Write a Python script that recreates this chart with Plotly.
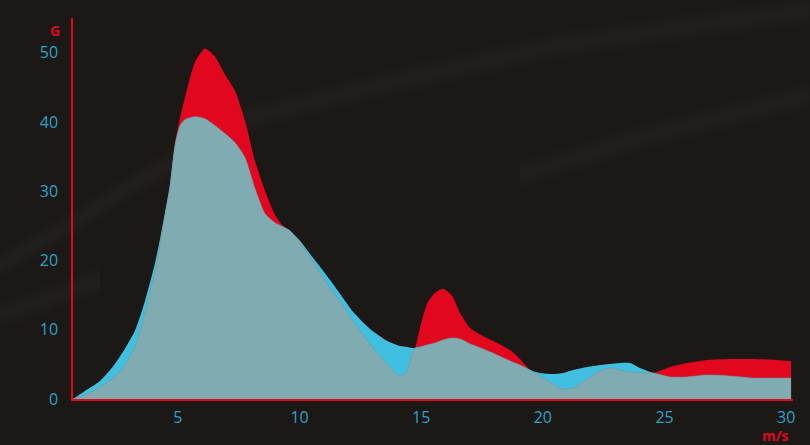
import numpy as np
import plotly.graph_objects as go

# wind speed (m/s)
speed = [0.69, 1.18, 1.80, 2.29, 2.74, 3.24, 3.65, 4.06, 4.27, 4.47, 4.68, 4.88,
         5.09, 5.29, 5.70, 6.11, 6.53, 6.94, 7.35, 7.76, 8.17, 8.58, 8.99, 9.32,
         9.61, 10.02, 10.43, 10.84, 11.25, 11.66, 12.20, 12.90, 13.60, 14.13, 14.42,
         14.62, 14.75, 14.95, 15.24, 15.57, 15.90, 16.27, 16.60, 17.01, 17.54, 18.12,
         18.65, 19.06, 19.47, 19.88, 20.42, 20.83, 21.24, 21.82, 22.35, 22.76, 23.17,
         23.58, 23.99, 24.53, 25.23, 25.93, 26.75, 27.69, 28.64, 29.62, 30.20]

red_values = [0, 0.58, 1.73, 2.89, 4.48, 7.60, 12.43, 18.50, 22.54, 26.45, 30.64, 36.99,
              40.61, 43.50, 48.60, 50.58, 49.42, 46.82, 44.50, 40.17, 34.39, 30.06, 26.59, 25.00,
              24.28, 22.54, 20.52, 18.21, 16.04, 14.16, 11.27, 7.95, 5.06, 3.32, 4.05,
              6.50, 7.37, 10.26, 13.73, 15.32, 15.90, 14.88, 12.43, 10.26, 9.10, 8.09,
              7.08, 5.78, 4.19, 3.32, 2.17, 1.45, 1.59, 2.89, 4.05, 4.48, 4.19,
              3.90, 3.76, 3.76, 4.62, 5.20, 5.64, 5.78, 5.78, 5.64, 5.49]

blue_values = [0, 1.16, 2.60, 4.50, 6.79, 9.90, 14.16, 19.65, 23.12, 26.88, 31.07, 36.56,
               39.45, 40.32, 40.75, 40.46, 39.45, 38.29, 37.00, 34.83, 30.35, 26.73, 25.43, 24.86,
               24.28, 22.83, 20.95, 19.10, 17.20, 15.20, 12.60, 10.10, 8.38, 7.66, 7.51,
               7.37, 7.37, 7.51, 7.80, 8.09, 8.53, 8.82, 8.67, 7.95, 7.23, 6.36,
               5.49, 4.91, 4.19, 3.76, 3.61, 3.76, 4.19, 4.62, 4.91, 5.06, 5.20,
               5.20, 4.48, 3.76, 3.18, 3.18, 3.47, 3.32, 3.03, 3.03, 3.03]

y_ticks = [0, 10, 20, 30, 40, 50]
x_ticks = [5, 10, 15, 20, 25, 30]

RED = "#e2061f"
BLUE = "#41bfe0"
GREY = "#80abb0"
TICK = "#29a3c9"
BG = "#1b1816"

# plot area in page pixels (for background texture shapes only)
L, R, T, B = 73, 793, 18, 399


def P(px, py):
    return f"{(px - L) / (R - L):.4f},{(B - py) / (B - T):.4f}"


# soft light streaks of the dark textured backdrop: (centre-line points, half widths)
streak_lines = [
    [(0, 265), (70, 225), (140, 180), (210, 145)],
    [(0, 315), (50, 298), (100, 280)],
    [(240, 120), (380, 85), (560, 45), (810, 10)],
    [(520, 175), (650, 135), (810, 95)],
]
shapes = []
for line in streak_lines:
    for hw in (14, 9, 5):
        top = [(x, y - hw) for x, y in line]
        bot = [(x, y + hw) for x, y in reversed(line)]
        path = "M " + " L ".join(P(*p) for p in top + bot) + " Z"
        shapes.append(dict(type="path", xref="paper", yref="paper", path=path,
                           fillcolor="rgba(255,255,255,0.012)", line=dict(width=0),
                           layer="below"))

overlap = np.minimum(np.array(red_values), np.array(blue_values))

fig = go.Figure()
line_kw = dict(shape="spline", smoothing=0.6)
fig.add_trace(go.Scatter(x=speed, y=red_values, mode="lines", fill="tozeroy",
                         fillcolor=RED, line=dict(color=RED, width=0, **line_kw),
                         hoverinfo="skip", showlegend=False))
fig.add_trace(go.Scatter(x=speed, y=blue_values, mode="lines", fill="tozeroy",
                         fillcolor=BLUE, line=dict(color=BLUE, width=0, **line_kw),
                         hoverinfo="skip", showlegend=False))
fig.add_trace(go.Scatter(x=speed, y=overlap, mode="lines", fill="tozeroy",
                         fillcolor=GREY, line=dict(color="#6f98a0", width=0.6, **line_kw),
                         hoverinfo="skip", showlegend=False))

fig.update_layout(
    width=810, height=445,
    margin=dict(l=73, r=17, t=18, b=46),
    paper_bgcolor=BG, plot_bgcolor="rgba(0,0,0,0)",
    font=dict(family="Open Sans", size=16, color=TICK),
    shapes=shapes,
    xaxis=dict(range=[0.69, 30.28], tickvals=x_ticks, showgrid=False, zeroline=False,
               showline=True, linecolor=RED, linewidth=2,
               ticks="outside", ticklen=3, tickcolor="rgba(0,0,0,0)",
               tickfont=dict(color=TICK, size=16, family="Open Sans")),
    yaxis=dict(range=[0, 55], tickvals=y_ticks, showgrid=False, zeroline=False,
               showline=True, linecolor=RED, linewidth=1.5,
               ticks="outside", ticklen=10, tickcolor="rgba(0,0,0,0)",
               tickfont=dict(color=TICK, size=16, family="Open Sans")),
    annotations=[
        dict(text="<b>G</b>", xref="paper", yref="paper", x=-0.025, y=0.966,
             xanchor="center", yanchor="middle", showarrow=False,
             font=dict(color=RED, size=14, family="Open Sans")),
        dict(text="<b>m/s</b>", xref="paper", yref="paper", x=0.975, y=-0.095,
             xanchor="center", yanchor="middle", showarrow=False,
             font=dict(color=RED, size=14, family="Open Sans")),
    ],
)

fig.write_html(
    "out.html",
    config={"displayModeBar": False},
    post_script="document.body.style.margin='0';document.body.style.background='#1b1816';",
)
